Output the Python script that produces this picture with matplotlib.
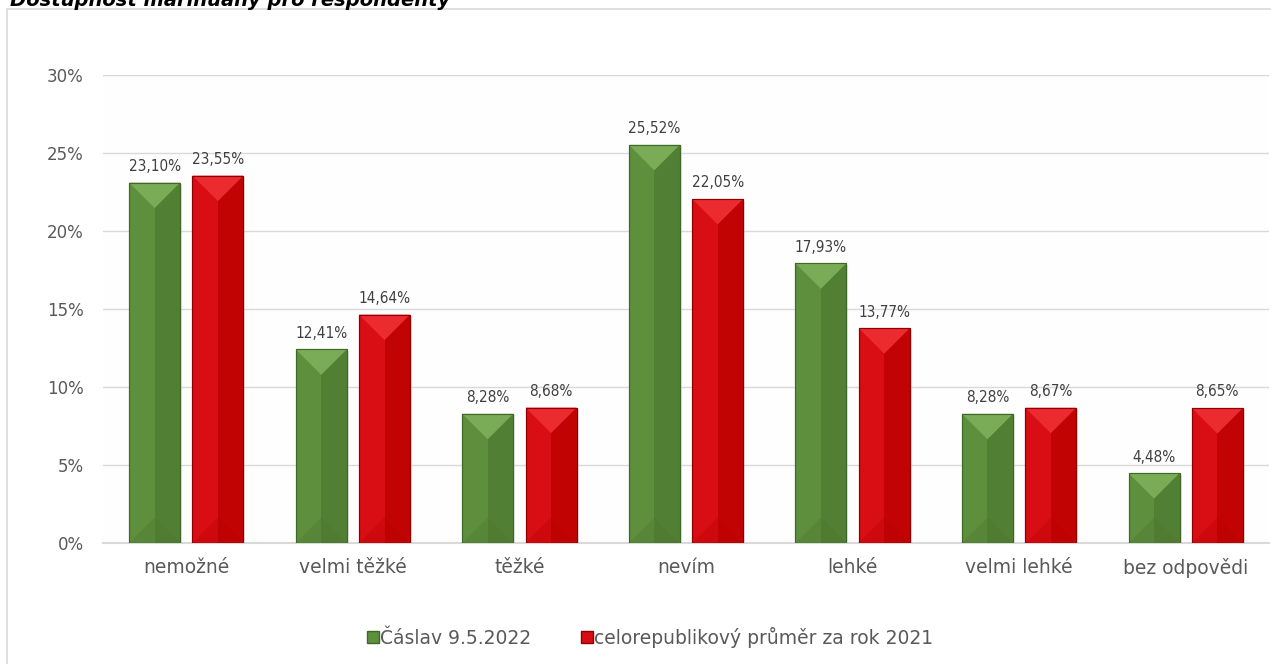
import numpy as np
import matplotlib.pyplot as plt
from matplotlib.patches import Polygon, Rectangle
from matplotlib.lines import Line2D

categories = ['nemožné', 'velmi těžké', 'těžké', 'nevím', 'lehké', 'velmi lehké', 'bez odpovědi']
caslav = [23.10, 12.41, 8.28, 25.52, 17.93, 8.28, 4.48]
prumer = [23.55, 14.64, 8.68, 22.05, 13.77, 8.67, 8.65]
series_names = ['Čáslav 9.5.2022', 'celorepublikový průměr za rok 2021']
yticks = [0, 5, 10, 15, 20, 25, 30]

# barvy: leva pulka, prava pulka, horni trojuhelnik, spodni trojuhelnik, okraj
green = dict(left='#5e8f3d', right='#517f33', top='#7aac57', bottom='#4c7830', edge='#3f6828')
red = dict(left='#d90e15', right='#c20303', top='#ec2b30', bottom='#b90202', edge='#8e0000')

W, H = 1271, 664
fig = plt.figure(figsize=(W / 100, H / 100), dpi=100)
ax = fig.add_axes([103 / W, 1 - 543 / H, (1269 - 103) / W, (543 - 75) / H])
ax.set_facecolor('#fefefe')

x = np.arange(len(categories))
bw = 0.306
off = 0.19
ax.set_xlim(-0.5, len(categories) - 0.5)
ax.set_ylim(0, 30)

# prevod pixelu na data kvuli zkoseni
px_x = (1269 - 103) / len(categories)
px_y = (543 - 75) / 30.0


def bevel_bars(xs, vals, c):
    bars = ax.bar(xs, vals, bw, color=c['left'], edgecolor=c['edge'], linewidth=0.8, zorder=3)
    for b in bars:
        x0 = b.get_x()
        x1 = x0 + b.get_width()
        h = b.get_height()
        xc = (x0 + x1) / 2
        dy = (b.get_width() / 2) * px_x / px_y
        # stin
        ax.add_patch(Rectangle((x0 + 0.012, -0.1), x1 - x0, h, color='#bbbbbb', alpha=0.35,
                               zorder=2, linewidth=0))
        ax.add_patch(Polygon([(xc, 0), (x1, 0), (x1, h), (xc, h)], closed=True,
                             facecolor=c['right'], edgecolor='none', zorder=4))
        ax.add_patch(Polygon([(x0, h), (x1, h), (xc, h - dy)], closed=True,
                             facecolor=c['top'], edgecolor='none', zorder=5))
        ax.add_patch(Polygon([(x0, 0), (x1, 0), (xc, dy)], closed=True,
                             facecolor=c['bottom'], edgecolor='none', zorder=5, alpha=0.35))
        ax.add_patch(Rectangle((x0, 0), x1 - x0, h, facecolor='none', edgecolor=c['edge'],
                               linewidth=0.8, zorder=6))
        ax.text(xc, h + 0.55, f'{h:.2f}%'.replace('.', ','), ha='center', va='bottom',
                fontsize=11, fontstretch='condensed', family=['DejaVu Sans'],
                color='#404040', zorder=7)


bevel_bars(x - off, caslav, green)
bevel_bars(x + off, prumer, red)

ax.set_yticks(yticks)
ax.set_yticklabels([f'{v}%' for v in yticks], fontsize=12, color='#595959')
ax.set_xticks(x)
ax.set_xticklabels(categories, fontsize=13.5, color='#595959')
ax.tick_params(axis='y', length=0, pad=14)
ax.tick_params(axis='x', length=0, pad=11)
ax.grid(axis='y', color='#d9d9d9', linewidth=1, zorder=0)
for s in ['top', 'right', 'left']:
    ax.spines[s].set_visible(False)
ax.spines['bottom'].set_color('#d9d9d9')
ax.spines['bottom'].set_linewidth(1.5)
ax.set_axisbelow(True)

handles = [Line2D([], [], marker='s', linestyle='none', markersize=8,
                  markerfacecolor=c['left'], markeredgecolor=c['edge'])
           for c in (green, red)]
fig.legend(handles, series_names, loc='center', bbox_to_anchor=(650 / W, 1 - 637 / H),
           ncol=2, frameon=False, fontsize=13.5, handletextpad=0.05, columnspacing=2.6,
           labelcolor='#595959', handlelength=0.7)

# ramecek grafu
fig.patches.append(Rectangle((7 / W, -0.05), 1.1, 1 - 9 / H + 0.05, transform=fig.transFigure,
                             facecolor='none', edgecolor='#d9d9d9', linewidth=1.2))

fig.text(10 / W, 1 - 6 / H, 'Dostupnost marihuany pro respondenty', fontsize=14,
         fontweight='bold', fontstyle='italic', ha='left', va='baseline', color='black')

fig.savefig('out.png', dpi=100)
